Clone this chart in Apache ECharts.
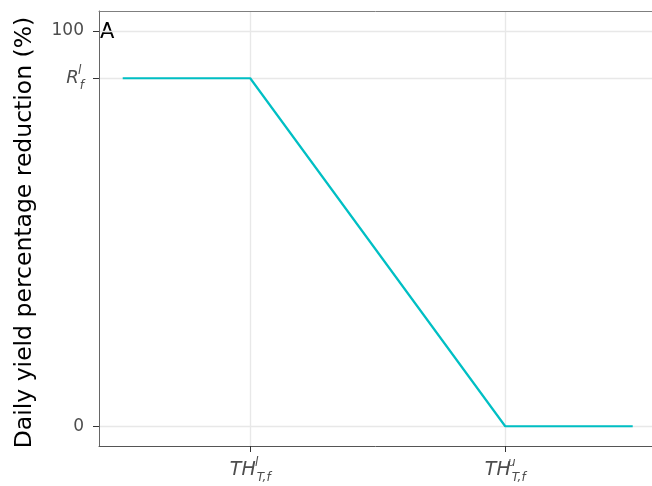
<!DOCTYPE html>
<html>
<head>
<meta charset="utf-8">
<script src="https://cdn.jsdelivr.net/npm/echarts@6/dist/echarts.min.js"></script>
<style>html,body{margin:0;padding:0;background:#fff}#c{width:652px;height:486px}</style>
</head>
<body>
<div id="c"></div>
<script>
// Data
var xValues = [5, 10, 20, 25];
var yValues = [88, 88, 0, 0];
var xTickValues = [10, 20];
var xTickLabels = ['{m|TH}{sp| }{sup|l}{sub|T,f}', '{m|TH}{sp| }{sup|u}{sub|T,f}'];
var yTickValues = [0, 88, 100];
var yTickLabels = ['0', '{r|R}{sp| }{sup|l}{sub|f}', '100'];
var yTitle = 'Daily yield percentage reduction (%)';
var panelTag = 'A';

var chart = echarts.init(document.getElementById('c'), null, {renderer: 'canvas'});
var FONT = 'DejaVu Sans';
var points = xValues.map(function (x, i) { return [x, yValues[i]]; });
var LBL = '#4d4d4d';
function richSet(mainKey, mainSize) {
  var o = {
    sp: {fontSize: 4, width: 1, lineHeight: 4},
    sup: {fontFamily: FONT, fontStyle: 'italic', fontSize: 12, color: LBL, verticalAlign: 'top', align: 'left', width: 0.01, lineHeight: 14},
    sub: {fontFamily: FONT, fontStyle: 'italic', fontSize: 12, color: LBL, verticalAlign: 'bottom', align: 'left', lineHeight: 14}
  };
  o[mainKey] = {fontFamily: FONT, fontStyle: 'italic', fontSize: mainSize, color: LBL, lineHeight: 27};
  return o;
}

chart.setOption({
  animation: false,
  backgroundColor: '#fff',
  grid: {left: 99, top: 11, right: 0, bottom: 40, show: false, containLabel: false},
  xAxis: [{
    type: 'value', min: 4.07, max: 25.756,
    axisLine: {show: true, onZero: false, lineStyle: {color: '#555', width: 1}},
    axisTick: {show: true, length: 6, customValues: xTickValues, lineStyle: {color: '#333', width: 1}},
    splitLine: {show: true, lineStyle: {color: '#e8e8e8', width: 1.4}},
    axisLabel: {
      customValues: xTickValues, margin: 11, fontFamily: FONT, color: LBL,
      formatter: function (v) { return xTickLabels[xTickValues.indexOf(v)]; },
      rich: richSet('m', 19)
    }
  }, {
    type: 'value', position: 'top', min: 4.07, max: 25.756,
    axisLine: {show: true, onZero: false, lineStyle: {color: '#7f7f7f', width: 1}},
    axisTick: {show: false}, axisLabel: {show: false}, splitLine: {show: false}
  }],
  yAxis: {
    type: 'value', min: -5, max: 105,
    name: yTitle, nameLocation: 'middle', nameGap: 62, nameRotate: 90,
    nameTextStyle: {fontFamily: FONT, fontSize: 23.5, color: '#000', padding: [0, 8, 0, 0]},
    axisLine: {show: true, onZero: false, lineStyle: {color: '#666', width: 1}},
    axisTick: {show: true, length: 6, customValues: yTickValues, lineStyle: {color: '#333', width: 1}},
    splitLine: {show: true, lineStyle: {color: '#e8e8e8', width: 1.4}},
    axisLabel: {
      customValues: yTickValues, margin: 15, fontFamily: FONT, fontSize: 17, color: LBL,
      formatter: function (v) { return yTickLabels[yTickValues.indexOf(v)]; },
      rich: richSet('r', 18)
    }
  },
  graphic: [{
    type: 'text', left: 100, top: 22,
    style: {text: panelTag, fontFamily: FONT, fontSize: 21, fill: '#000'}
  }],
  series: [{
    type: 'line', data: points, showSymbol: false, symbol: 'none', xAxisIndex: 0,
    lineStyle: {color: '#00BFC4', width: 2.2}, clip: false
  }]
});
</script>
</body>
</html>
